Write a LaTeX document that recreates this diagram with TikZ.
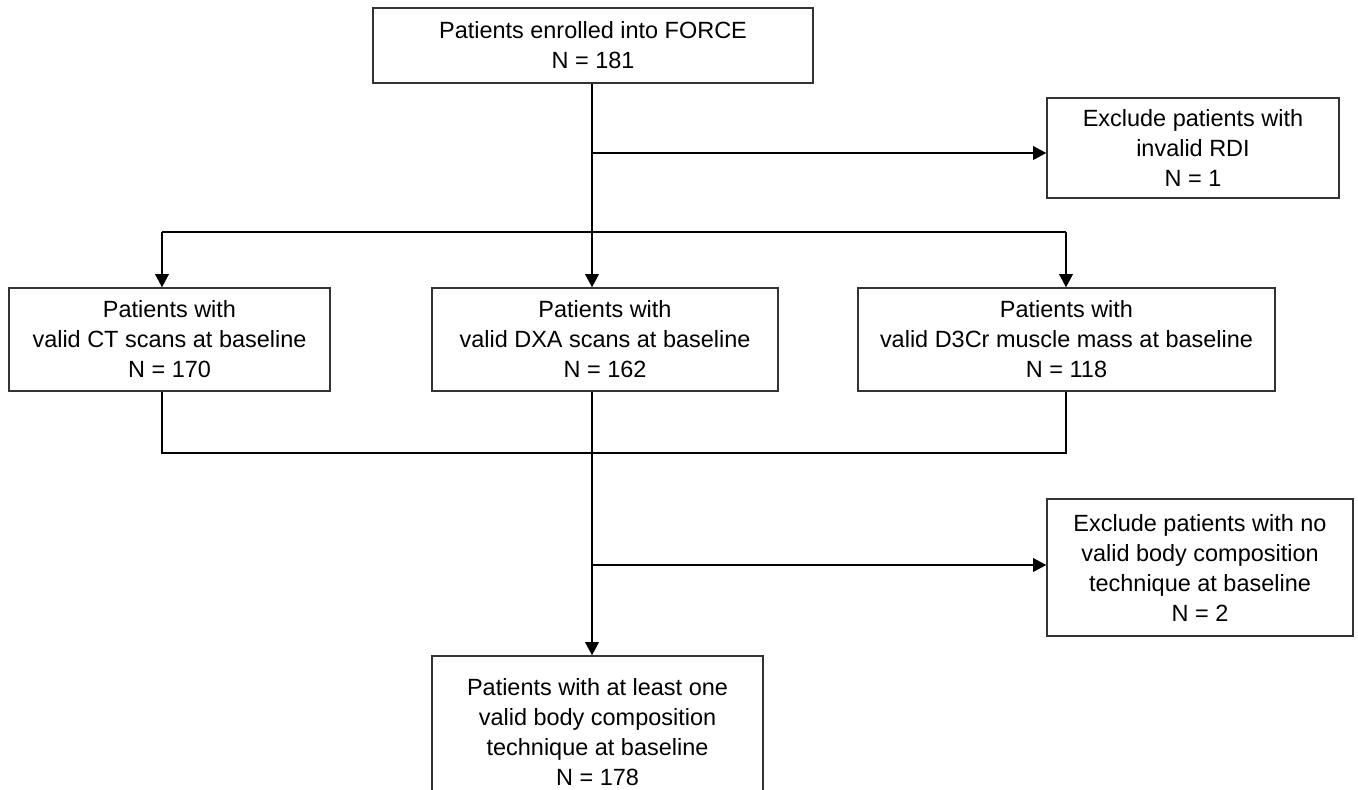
\documentclass[tikz,border=0pt]{standalone}
\usepackage{fontspec}
\setmainfont{Liberation Sans}
\usetikzlibrary{arrows.meta}
\tikzset{
  box/.style={draw=black!80, line width=0.9pt, align=center, inner sep=0pt,
    font=\fontsize{17.6}{22.5}\selectfont},
  link/.style={line width=1.9pt},
  flow/.style={line width=1.9pt, -{Triangle[length=10pt,width=10pt]}},
}
\begin{document}
\begin{tikzpicture}[x=0.75pt,y=-0.75pt]
\useasboundingbox (0,0) rectangle (1358,789);
\clip (0,0) rectangle (1358,789);
\node[box, minimum width=330pt, minimum height=56.25pt] (enrolled) at (593,45.5)
  {Patients enrolled into FORCE\\N = 181};
\node[box, minimum width=219pt, minimum height=75pt] (invalid) at (1193,148)
  {Exclude patients with\\invalid RDI\\N = 1};
\node[box, minimum width=240.75pt, minimum height=77.25pt] (ct) at (169.5,339.5)
  {Patients with\\valid CT scans at baseline\\N = 170};
\node[box, minimum width=259.5pt, minimum height=77.25pt] (dxa) at (605,339.5)
  {Patients with\\valid DXA scans at baseline\\N = 162};
\node[box, minimum width=312.75pt, minimum height=77.25pt] (d3cr) at (1066.5,339.5)
  {Patients with\\valid D3Cr muscle mass at baseline\\N = 118};
\node[box, minimum width=229.5pt, minimum height=102.75pt] (novalid) at (1200,567.5)
  {Exclude patients with no\\valid body composition\\technique at baseline\\N = 2};
\node[box, minimum width=248.25pt, minimum height=114pt] (final) at (597.5,732)
  {Patients with at least one\\valid body composition\\technique at baseline\\N = 178};
% junctions
\coordinate (excl1) at (592,153);
\coordinate (split) at (592,232);
\coordinate (ctx) at (162,232);
\coordinate (d3x) at (1066,232);
\coordinate (merge) at (592,453);
\coordinate (excl2) at (592,565);
% connectors
\draw[flow] (enrolled.south -| split) -- (dxa.north -| split);
\draw[flow] (excl1) -- (excl1 -| invalid.west);
\draw[link] (ctx) -- (d3x);
\draw[flow] (ctx) -- (ctx |- ct.north);
\draw[flow] (d3x) -- (d3x |- d3cr.north);
\draw[link] (ct.south -| ctx) -- (ctx |- merge) -- (d3x |- merge) -- (d3cr.south -| d3x);
\draw[flow] (dxa.south -| split) -- (final.north -| split);
\draw[flow] (excl2) -- (excl2 -| novalid.west);
\end{tikzpicture}
\end{document}
